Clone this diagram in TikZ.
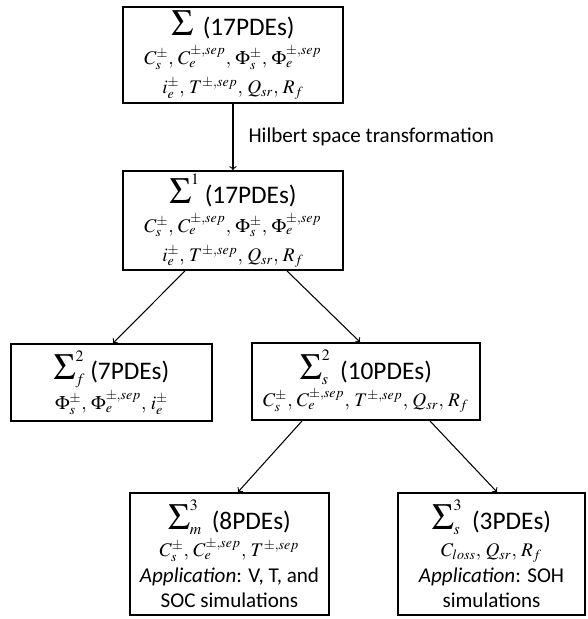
\documentclass[12pt,tikz,border=0pt]{standalone}
\usepackage{mathptmx}
\usepackage[no-math]{fontspec}
\setmainfont{Carlito}
\usepackage{tikz}
\usetikzlibrary{arrows}
\newcommand{\bigsig}{\mathop{\hbox{\fontsize{21}{21}\selectfont$\Sigma$}}\nolimits}

\begin{document}
\begin{tikzpicture}[x=0.02cm,y=-0.02cm,main node/.style={rectangle,draw,line width=1.1pt,align=center,inner sep=0pt}]
    \useasboundingbox (0,0) rectangle (588,619);
    \node[main node,minimum width=4.4cm,minimum height=1.92cm] (0) at (233,55)
      {$\bigsig$\ \ {\large(17PDEs)}\\[2pt] {\small$C_s^\pm,\,C_e^{\pm,sep},\,\Phi_s^\pm,\,\Phi_e^{\pm,sep}$}\\[2pt] {\small$i_e^\pm,\,T^{\pm,sep},\,Q_{sr},\,R_f$}};
    \node[main node,minimum width=4.4cm,minimum height=1.98cm] (1) at (233,220.5)
      {$\bigsig^1$\ {\large(17PDEs)}\\[2pt] {\small$C_s^\pm,\,C_e^{\pm,sep},\,\Phi_s^\pm,\,\Phi_e^{\pm,sep}$}\\[2pt] {\small$i_e^\pm,\,T^{\pm,sep},\,Q_{sr},\,R_f$}};
    \node[main node,minimum width=4.02cm,minimum height=1.54cm] (2f) at (111.5,382.5)
      {$\bigsig_f^2$\ {\large(7PDEs)}\\[1pt] {\small$\Phi_s^\pm,\,\Phi_e^{\pm,sep},\,i_e^\pm$}};
    \node[main node,minimum width=4.56cm,minimum height=1.54cm] (2s) at (366,381.5)
      {$\bigsig_s^2$\ \ {\large(10PDEs)}\\[1pt] {\small$C_s^\pm,\,C_e^{\pm,sep},\,T^{\pm,sep},\,Q_{sr},\,R_f$}};
    \node[main node,minimum width=3.98cm,minimum height=2.44cm] (3m) at (229.5,554)
      {$\bigsig_m^3$\ \ {\large(8PDEs)}\\[1pt] {\small$C_s^\pm,\,C_e^{\pm,sep},\,T^{\pm,sep}$}\\ \textit{Application}: V, T, and\\ SOC simulations};
    \node[main node,minimum width=3.74cm,minimum height=2.44cm] (3s) at (491.5,554)
      {$\bigsig_s^3$\ \ {\large(3PDEs)}\\[1pt] {\small$C_{loss},\,Q_{sr},\,R_f$}\\ \textit{Application}: SOH\\ simulations};

    \path[->,semithick]
    (0) edge node [right,xshift=0.16cm] {Hilbert space transformation} (1)
    ([xshift=-0.96cm]1.south) edge ([xshift=0.03cm]2f.north)
    ([xshift=1.08cm]1.south) edge ([xshift=-0.12cm]2s.north)
    ([xshift=-1.28cm]2s.south) edge ([xshift=0.17cm]3m.north)
    ([xshift=1.28cm]2s.south) edge ([xshift=0.11cm]3s.north);
  \end{tikzpicture}
\end{document}
